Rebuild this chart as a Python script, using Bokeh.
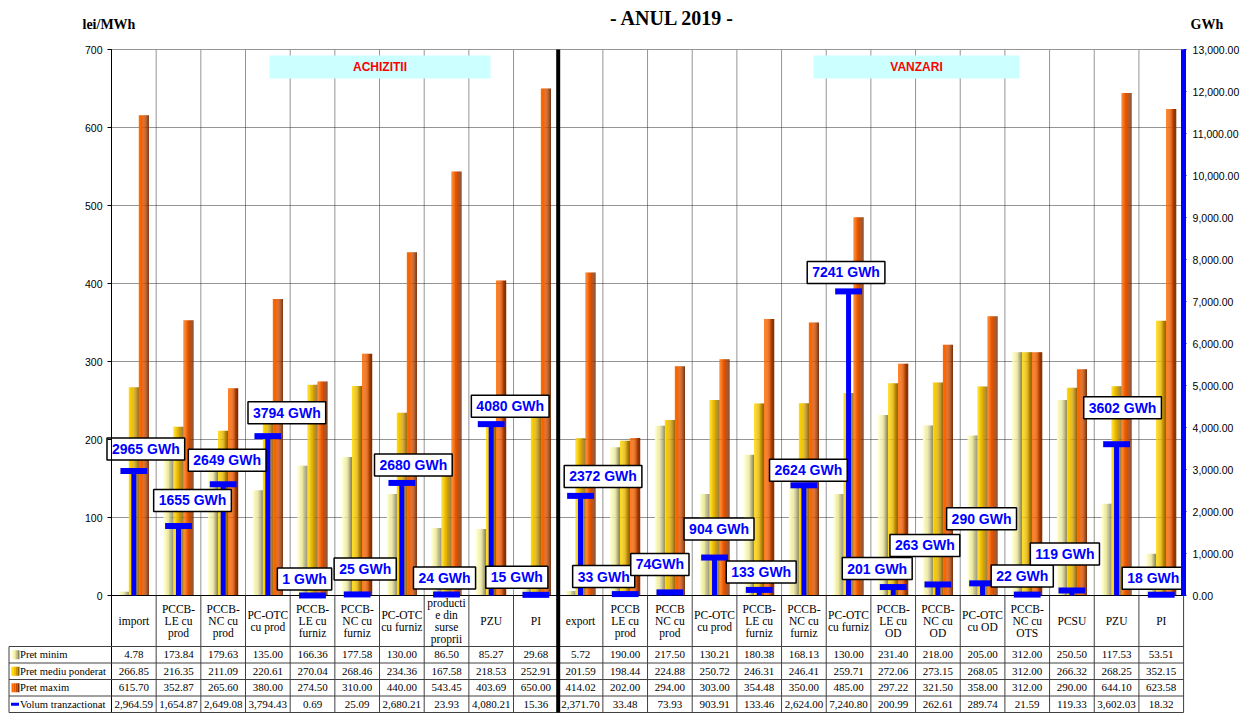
import numpy as np
from bokeh.plotting import figure
from bokeh.models import LinearAxis, Range1d, SingleIntervalTicker, NumeralTickFormatter
from bokeh.embed import file_html
from bokeh.resources import INLINE
from bokeh.core.properties import value

# ---------------- data ----------------
categories = [
    "import", "PCCB-\nLE cu\nprod", "PCCB-\nNC cu\nprod", "PC-OTC\ncu prod",
    "PCCB-\nLE cu\nfurniz", "PCCB-\nNC cu\nfurniz", "PC-OTC\ncu furniz",
    "producti\ne din\nsurse\nproprii", "PZU", "PI",
    "export", "PCCB\nLE cu\nprod", "PCCB\nNC cu\nprod", "PC-OTC\ncu prod",
    "PCCB-\nLE cu\nfurniz", "PCCB-\nNC cu\nfurniz", "PC-OTC\ncu furniz",
    "PCCB-\nLE cu\nOD", "PCCB-\nNC cu\nOD", "PC-OTC\ncu OD", "PCCB-\nNC cu\nOTS",
    "PCSU", "PZU", "PI",
]
n_achizitii = 10
pret_minim = [4.78, 173.84, 179.63, 135.00, 166.36, 177.58, 130.00, 86.50, 85.27, 29.68,
              5.72, 190.00, 217.50, 130.21, 180.38, 168.13, 130.00, 231.40, 218.00, 205.00,
              312.00, 250.50, 117.53, 53.51]
pret_mediu = [266.85, 216.35, 211.09, 220.61, 270.04, 268.46, 234.36, 167.58, 218.53, 252.91,
              201.59, 198.44, 224.88, 250.72, 246.31, 246.41, 259.71, 272.06, 273.15, 268.05,
              312.00, 266.32, 268.25, 352.15]
pret_maxim = [615.70, 352.87, 265.60, 380.00, 274.50, 310.00, 440.00, 543.45, 403.69, 650.00,
              414.02, 202.00, 294.00, 303.00, 354.48, 350.00, 485.00, 297.22, 321.50, 358.00,
              312.00, 290.00, 644.10, 623.58]
volum = [2964.59, 1654.87, 2649.08, 3794.43, 0.69, 25.09, 2680.21, 23.93, 4080.21, 15.36,
         2371.70, 33.48, 73.93, 903.91, 133.46, 2624.00, 7240.80, 200.99, 262.61, 289.74,
         21.59, 119.33, 3602.03, 18.32]
row_names = ["Pret minim", "Pret mediu ponderat", "Pret maxim", "Volum tranzactionat"]
price_max = 700
price_step = 100
volume_max = 13000
volume_step = 1000

# call-out label texts and their pixel offsets from the top of each volume marker
vol_labels = ["%d GWh" % round(v) for v in volum]
vol_labels[12] = "74GWh"
label_dx = [12, 14, 4, 19, -8, 8, 11.5, -2, 19, -19, 22.5, -21.5, -10, 4.5, 2, 4.5, -2.5,
            -16, -13, -1, -5, -7, 6, -8]
label_dy = [-22, -25.5, -24, -23.5, -16.5, -25.5, -18, -16.5, -18, -17.5, -19.5, -17.5, -28,
            -28.5, -18, -15, -19, -18.5, -39, -64.5, -18.5, -36.5, -36.5, -16.5]

# ---------------- geometry ----------------
n = len(categories)
W, H = 1241, 713
X0, CW = 111.0, 44.67          # page x of chart left edge, px per category
Y0, YTOP = 595.0, 49.0         # page y of value 0 and of value 700
KP = (Y0 - YTOP) / price_max
KV = (Y0 - YTOP) / volume_max


def dxp(px):
    return (px - X0) / CW


def dyp(py):
    return (Y0 - py) / KP


def dyv(py):
    return (Y0 - py) / KV


SERIF = value("Liberation Serif")
SANS = value("Liberation Sans")

p = figure(width=W, height=H,
           x_range=Range1d(dxp(0), dxp(W)),
           y_range=Range1d(dyp(H), dyp(0)),
           x_axis_type=None, y_axis_type=None,
           output_backend="svg", toolbar_location=None,
           min_border_left=0, min_border_right=0, min_border_top=0, min_border_bottom=0)
p.outline_line_color = None
p.background_fill_color = "white"
p.border_fill_color = "white"
p.extra_y_ranges = {"vol": Range1d(dyv(H), dyv(0))}

centers = np.arange(n) + 0.5

# ---------------- grid ----------------
gy = np.arange(price_step, price_max + 1, price_step)
p.segment(x0=0, x1=n, y0=gy, y1=gy, line_color="#2a2a2a", line_width=1, line_dash="1 1")
vx = np.array([i for i in range(1, n) if i != n_achizitii])
p.segment(x0=vx, x1=vx, y0=0, y1=price_max, line_color="#2a2a2a", line_width=1, line_dash="1 1")

# section boxes
p.quad(left=[dxp(269), dxp(813)], right=[dxp(490), dxp(1019)], top=dyp(55), bottom=dyp(78),
       fill_color="#CCFFFF", line_color=None)
p.text(x=[(dxp(269) + dxp(490)) / 2, (dxp(813) + dxp(1019)) / 2], y=dyp(66.5),
       text=["ACHIZITII", "VANZARI"], text_font=SANS, text_font_style="bold",
       text_font_size="12px", text_color="#FF0000", text_align="center", text_baseline="middle")

# ---------------- bars with horizontal gradient ----------------
def hex2rgb(h):
    return [int(h[i:i + 2], 16) for i in (1, 3, 5)]


def grad_color(stops, t):
    seg = t * (len(stops) - 1)
    k = min(int(seg), len(stops) - 2)
    f = seg - k
    a, b = hex2rgb(stops[k]), hex2rgb(stops[k + 1])
    return "#%02x%02x%02x" % tuple(int(round(a[c] + (b[c] - a[c]) * f)) for c in range(3))


grad_min = ["#FFFFC4", "#E9E59C", "#8A8664"]
grad_med = ["#FFD900", "#E2AE00", "#8C6200"]
grad_max = ["#FF6C00", "#E05400", "#782A00"]
NS = 9
bw = 10.0 / CW
for s, (vals, stops) in enumerate([(pret_minim, grad_min), (pret_mediu, grad_med),
                                   (pret_maxim, grad_max)]):
    off = (s - 1) * bw
    for j in range(NS):
        col = grad_color(stops, j / (NS - 1))
        xs = centers + off - bw / 2 + (j + 0.5) * bw / NS
        p.vbar(x=xs, top=vals, bottom=0, width=bw / NS * 1.08, fill_color=col, line_color=None)

# axis base line
p.segment(x0=0, x1=n, y0=0, y1=0, line_color="black", line_width=1)

# ---------------- volume markers ----------------
vol = np.array(volum)
p.segment(x0=centers, x1=centers, y0=0, y1=vol, line_color="#0000FF", line_width=5,
          y_range_name="vol")
p.segment(x0=centers - 0.3, x1=centers + 0.3, y0=vol, y1=vol, line_color="#0000FF",
          line_width=6, line_cap="butt", y_range_name="vol")

lab_x = centers + np.array(label_dx) / CW
lab_y = vol - np.array(label_dy) / KV
p.text(x=lab_x, y=lab_y, text=vol_labels, y_range_name="vol",
       text_font=SANS, text_font_style="bold", text_font_size="14px", text_color="#0000FF",
       text_align="center", text_baseline="middle",
       background_fill_color="white", border_line_color="black", border_line_width=1.5,
       padding=(5, 3))

# ---------------- table ----------------
TH1 = 646.0
BOT = H - 1.0
RH = (BOT - TH1) / 4
tcol = "#404040"
cols = np.arange(1, n + 1)
p.segment(x0=cols, x1=cols, y0=dyp(Y0), y1=dyp(BOT), line_color=tcol, line_width=1)
p.segment(x0=0, x1=0, y0=dyp(BOT), y1=price_max, line_color="black", line_width=1)
rows_y = np.array([dyp(TH1 + r * RH) for r in range(5)])
p.segment(x0=dxp(8.5), x1=n, y0=rows_y, y1=rows_y, line_color=tcol, line_width=1)
p.segment(x0=dxp(8.5), x1=dxp(8.5), y0=dyp(TH1), y1=dyp(BOT), line_color=tcol, line_width=1)
# divider between achizitii and vanzari
p.segment(x0=n_achizitii, x1=n_achizitii, y0=dyp(BOT), y1=price_max, line_color="black",
          line_width=4)

p.text(x=centers, y=dyp((Y0 + TH1) / 2), text=categories, text_font=SERIF,
       text_font_size="11.5px", text_color="black", text_align="center",
       text_baseline="middle", text_line_height=1.0)

for r, vals in enumerate([pret_minim, pret_mediu, pret_maxim, volum]):
    yc = dyp(TH1 + (r + 0.5) * RH)
    p.text(x=centers, y=yc, text=["{:,.2f}".format(v) for v in vals], text_font=SERIF,
           text_font_size="11px", text_color="black", text_align="center",
           text_baseline="middle")
    p.text(x=[dxp(19.5)], y=[yc], text=[row_names[r]], text_font=SERIF, text_font_size="10.6px",
           text_color="black", text_align="left", text_baseline="middle")
    if r < 3:
        stops = [grad_min, grad_med, grad_max][r]
        for j in range(4):
            p.quad(left=dxp(11 + j * 2), right=dxp(13 + j * 2),
                   top=dyp(TH1 + (r + 0.5) * RH - 4.5),
                   bottom=dyp(TH1 + (r + 0.5) * RH + 4.5),
                   fill_color=grad_color(stops, j / 3), line_color=None)
    else:
        p.segment(x0=dxp(10.5), x1=dxp(18.5), y0=yc, y1=yc, line_color="#0000FF", line_width=3)

# ---------------- titles ----------------
p.text(x=[dxp(672)], y=[dyp(17)], text=["- ANUL 2019 -"], text_font=SERIF, text_font_style="bold",
       text_font_size="20px", text_color="black", text_align="center", text_baseline="alphabetic")
p.text(x=[dxp(82)], y=[dyp(24)], text=["lei/MWh"], text_font=SERIF, text_font_style="bold",
       text_font_size="14px", text_color="black", text_align="left", text_baseline="alphabetic")
p.text(x=[dxp(1190)], y=[dyp(24)], text=["GWh"], text_font=SERIF, text_font_style="bold",
       text_font_size="14px", text_color="black", text_align="left", text_baseline="alphabetic")

# ---------------- axes ----------------
yax = LinearAxis(fixed_location=0, bounds=(0, price_max),
                 ticker=SingleIntervalTicker(interval=price_step, num_minor_ticks=0),
                 axis_line_color="black", axis_line_width=1,
                 major_tick_line_color="black", major_tick_out=4, major_tick_in=0,
                 minor_tick_out=0, minor_tick_in=0, major_label_standoff=5,
                 major_label_text_font="Liberation Sans", major_label_text_font_size="10.5px",
                 major_label_text_color="black")
p.add_layout(yax, "left")

vax = LinearAxis(y_range_name="vol", fixed_location=n, bounds=(0, volume_max),
                 ticker=SingleIntervalTicker(interval=volume_step, num_minor_ticks=0),
                 formatter=NumeralTickFormatter(format="0,0.00"),
                 axis_line_color="#0000FF", axis_line_width=5,
                 major_tick_line_color="#0000FF", major_tick_out=3, major_tick_in=0,
                 minor_tick_out=0, minor_tick_in=0, major_label_standoff=6,
                 major_label_text_font="Liberation Sans", major_label_text_font_size="10.5px",
                 major_label_text_color="black")
p.add_layout(vax, "right")

open("out.html", "w").write(file_html(p, INLINE, title="ANUL 2019"))
